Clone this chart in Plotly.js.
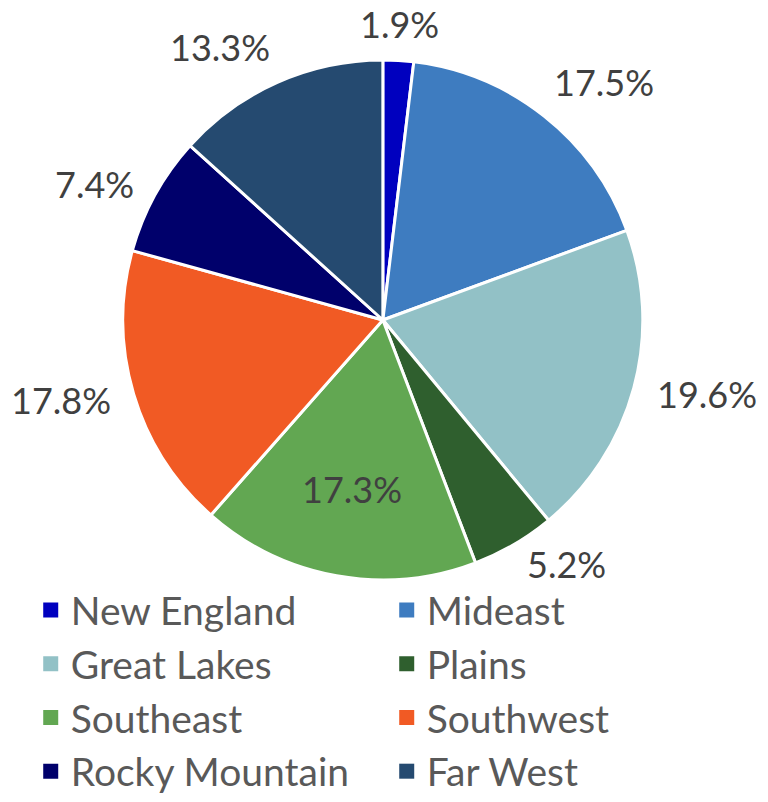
<!DOCTYPE html>
<html>
<head>
<meta charset="utf-8">
<script src="https://cdn.plot.ly/plotly-3.0.1.min.js"></script>
<style>html,body{margin:0;padding:0;background:#fff;}#chart{width:768px;height:802px;}</style>
</head>
<body>
<div id="chart"></div>
<script>
const regions = ["New England", "Mideast", "Great Lakes", "Plains", "Southeast", "Southwest", "Rocky Mountain", "Far West"];
const shares = [1.9, 17.5, 19.6, 5.2, 17.3, 17.8, 7.4, 13.3];
const sliceColors = ["#0000BF", "#3E7CC0", "#92C1C6", "#2F5F2E", "#62A752", "#F15A24", "#00006B", "#254A70"];
const labelInside = [false, false, false, false, true, false, false, false];

const W = 768, H = 802;
const domX = [0.160, 0.837];
const domY = [0.2768, 0.9252];

// pie geometry in pixels, derived from the domain (as Plotly does)
const cx = W * (domX[0] + domX[1]) / 2;
const cy = H * (1 - (domY[0] + domY[1]) / 2);
const R = Math.min(W * (domX[1] - domX[0]), H * (domY[1] - domY[0])) / 2;

const total = shares.reduce((a, b) => a + b, 0);
const annotations = [];
let cum = 0;
shares.forEach((v, i) => {
  const mid = (cum + v / 2) / total * 2 * Math.PI;
  cum += v;
  const s = Math.sin(mid), c = Math.cos(mid);
  let px, py, xa, ya;
  if (labelInside[i]) {
    px = cx + 0.66 * R * s; py = cy - 0.66 * R * c;
    xa = "center"; ya = "middle";
  } else {
    xa = s > 0.15 ? "left" : (s < -0.15 ? "right" : "center");
    ya = c > 0.6 ? "bottom" : (c < -0.9 ? "top" : "middle");
    const gap = ya === "bottom" ? 13 : 22;
    px = cx + (R + gap) * s; py = cy - (R + gap) * c;
  }
  annotations.push({
    xref: "paper", yref: "paper",
    x: px / W, y: 1 - py / H,
    xanchor: xa, yanchor: ya,
    text: v.toFixed(1) + "%",
    showarrow: false,
    font: { family: "Lato, sans-serif", size: 36, color: "#404040" }
  });
});

const pie = {
  type: "pie",
  labels: regions,
  values: shares,
  sort: false,
  direction: "clockwise",
  rotation: 0,
  marker: { colors: sliceColors, line: { color: "#ffffff", width: 3 } },
  textinfo: "none",
  showlegend: false,
  domain: { x: domX, y: domY },
  hoverinfo: "label+percent"
};

const legendTraces = regions.map((r, i) => ({
  type: "scatter",
  mode: "markers",
  x: [null], y: [null],
  name: r,
  marker: { symbol: "square", size: 15, color: sliceColors[i] },
  showlegend: true,
  hoverinfo: "skip"
}));

const layout = {
  width: W,
  height: H,
  margin: { l: 0, r: 0, t: 0, b: 0, autoexpand: false },
  paper_bgcolor: "#ffffff",
  plot_bgcolor: "rgba(0,0,0,0)",
  xaxis: { visible: false, showgrid: false, zeroline: false },
  yaxis: { visible: false, showgrid: false, zeroline: false },
  showlegend: true,
  annotations: annotations,
  legend: {
    orientation: "h",
    x: 0.04,
    xanchor: "left",
    y: 0.279,
    yanchor: "top",
    entrywidth: 311,
    entrywidthmode: "pixels",
    font: { family: "Lato, sans-serif", size: 39, color: "#595959" },
    traceorder: "normal",
    bgcolor: "rgba(0,0,0,0)"
  }
};

Plotly.newPlot("chart", [pie].concat(legendTraces), layout, { displayModeBar: false, staticPlot: true });
</script>
</body>
</html>
